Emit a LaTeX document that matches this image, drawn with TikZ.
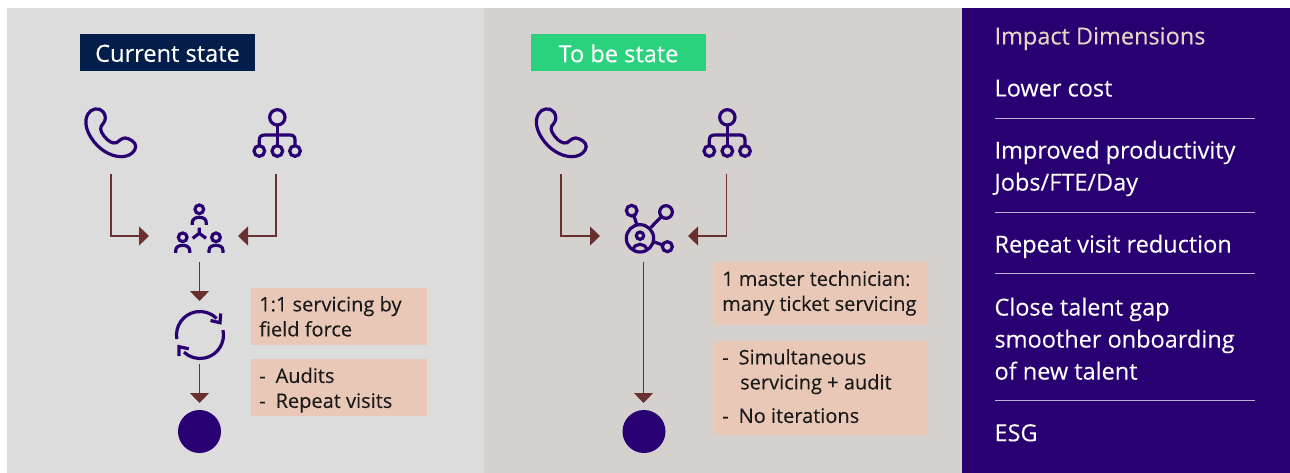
\documentclass[tikz,border=0pt]{standalone}
\usepackage{fontspec}
\setmainfont{Open Sans}[FakeBold=0.12]
\usetikzlibrary{arrows.meta,positioning}
\definecolor{panelA}{HTML}{DCDCDC}
\definecolor{panelB}{HTML}{D5D1CE}
\definecolor{deep}{HTML}{280071}
\definecolor{navy}{HTML}{041E4B}
\definecolor{mint}{HTML}{2AD27E}
\definecolor{peach}{HTML}{E9C8B8}
\definecolor{wine}{HTML}{68302E}
\definecolor{lilac}{HTML}{E8D3C4}
\tikzset{
  x=1pt,y=-1pt,
  flow/.style={draw=wine,line width=1.3pt,-{Triangle[length=10pt,width=19pt]}},
  icon/.style={draw=deep,line width=3.2pt,fill=none},
  titlebox/.style={minimum width=175pt,minimum height=37pt,inner sep=0pt,font=\fontsize{23.6}{24}\selectfont,text=white,text depth=0pt},
  notetext/.style={anchor=north west,inner sep=0pt,text=black!90,font=\fontsize{20}{25}\selectfont,align=left},
  imp/.style={anchor=north west,inner sep=0pt,text=white,font=\fontsize{23.5}{32}\selectfont,align=left},
  rulew/.style={draw=white!70!deep,line width=1pt},
  phone/.pic={
    \draw[icon,scale=1/3] (84,72) .. controls (92,56) and (118,50) .. (130,66)
      .. controls (138,78) and (138,90) .. (130,100) .. controls (118,112) and (120,122) .. (132,138)
      .. controls (144,154) and (158,162) .. (170,158) .. controls (182,148) and (192,140) .. (204,146)
      .. controls (224,154) and (232,166) .. (224,180) .. controls (216,194) and (200,200) .. (184,200)
      .. controls (150,200) and (114,176) .. (94,144) .. controls (78,120) and (72,92) .. (84,72) -- cycle;
  },
  orgchart/.pic={
    \begin{scope}[scale=1/3]
    \draw[icon] (652,82) circle (23);
    \draw[icon] (598,183) circle (16);
    \draw[icon] (652,183) circle (16);
    \draw[icon] (705,183) circle (16);
    \draw[icon] (652,105) -- (652,167);
    \draw[icon] (598,167) -- (598,150) .. controls (598,140) and (604,135) .. (614,135) -- (690,135) .. controls (700,135) and (705,140) .. (705,150) -- (705,167);
    \end{scope}
  },
  person/.pic={
    \begin{scope}[scale=1/3]
    \draw[icon] (0,0) circle (13);
    \draw[icon] (-21,47) -- (-21,40) .. controls (-21,28) and (-10,24) .. (0,24) .. controls (10,24) and (21,28) .. (21,40) -- (21,47);
    \end{scope}
  }
}
\begin{document}
\begin{tikzpicture}
\useasboundingbox (0,0) rectangle (1290,473);
\fill[white] (0,0) rectangle (1290,473);
\fill[panelA] (7,8) rectangle (484,473);
\fill[panelB] (484,8) rectangle (962,473);
\fill[deep] (962,8) rectangle (1290,473);

% titles
\node[titlebox,fill=navy] (cur) at (167.5,52.5) {\raisebox{-1.5pt}{Current state}};
\node[titlebox,fill=mint] (tobe) at (618.5,52.5) {\raisebox{-1.5pt}{To be state}};

% icons
\pic at (60,90) {phone};
\pic at (60,90) {orgchart};
\pic at (510.5,90) {phone};
\pic at (510,90) {orgchart};

% team icon
\pic at (199.3,209.3) {person};
\pic at (182.7,237.3) {person};
\pic at (216,237.3) {person};
\draw[icon] (199.3,227.5) -- (199.3,233.3) (192.7,238.3) -- (199.3,233.3) -- (206,238.3);

% hub icon
\begin{scope}[shift={(520,90)}]
\begin{scope}[scale=1/3]
\draw[icon] (360,445) circle (41);
\draw[icon] (360,437) circle (11);
\draw[icon] (340,478) .. controls (344,458) and (376,458) .. (380,478);
\draw[icon] (335,362) circle (16);
\draw[icon] (438,366) circle (19);
\draw[icon] (442,470) circle (15);
\draw[icon] (342,378) -- (351,405);
\draw[icon] (424,380) -- (392,413);
\draw[icon] (400,455) -- (428,465);
\end{scope}
\end{scope}

% sync icon
\draw[icon] (200,335) ++(170:23.5) arc[start angle=170,end angle=315,radius=23.5];
\draw[icon] (200,335) ++(-12:23.5) arc[start angle=-12,end angle=133,radius=23.5];
\draw[icon] (210.5,320.5) -- (220,322.7) -- (220.7,313.5);
\draw[icon] (188.8,348.8) -- (179,346.7) -- (179,356);

% named ends
\coordinate (a1) at (111,174);
\coordinate (a2) at (276,174);
\coordinate (teamL) at (149,236);
\coordinate (teamR) at (238,236);
\coordinate (teamD) at (199.5,262);
\coordinate (syncU) at (199.5,301);
\coordinate (syncD) at (199.5,364);
\coordinate (dotU) at (199.5,403);
\coordinate (b1) at (561,174);
\coordinate (b2) at (726.5,174);
\coordinate (hubL) at (600,236);
\coordinate (hubR) at (688,236);
\coordinate (hubD) at (643.5,262);
\coordinate (dot2U) at (643.5,403);

\draw[flow] (a1) |- (teamL);
\draw[flow] (a2) |- (teamR);
\draw[flow] (teamD) -- (syncU);
\draw[flow] (syncD) -- (dotU);
\draw[flow] (b1) |- (hubL);
\draw[flow] (b2) |- (hubR);
\draw[flow] (hubD) -- (dot2U);

\node[circle,fill=deep,minimum size=43pt,inner sep=0pt] (dotA) at (199.5,431.5) {};
\node[circle,fill=deep,minimum size=43pt,inner sep=0pt] (dotB) at (644,431.5) {};

% notes
\fill[peach] (251,288) rectangle (427,345);
\fill[peach] (251,359) rectangle (427,416);
\fill[peach] (714,262) rectangle (928,325);
\fill[peach] (714,341) rectangle (928,435);

\node[notetext] (n1) at (259,296) {1:1 servicing by\\field force};
\node[notetext] (n2) at (259,367.5) {-\hspace{10pt}Audits\\-\hspace{10pt}Repeat visits};
\node[notetext] (n3) at (722,270.5) {1 master technician:\\many ticket servicing};
\node[notetext] (n4a) at (722,349) {-\hspace{10pt}Simultaneous\\\hspace{18pt}servicing + audit};
\node[notetext] (n4b) at (722,408) {-\hspace{10pt}No iterations};

% right panel
\node[imp,text=lilac] (h) at (994.3,27) {Impact Dimensions};
\node[imp] (i1) at (994.3,79.5) {Lower cost};
\draw[rulew] (995,118.5) -- (1255,118.5);
\node[imp] (i2) at (994.3,140.5) {Improved productivity\\Jobs/FTE/Day};
\draw[rulew] (995,213) -- (1255,213);
\node[imp] (i3) at (994.3,234.5) {Repeat visit reduction};
\draw[rulew] (995,273.7) -- (1255,273.7);
\node[imp] (i4) at (994.3,297.5) {Close talent gap\\smoother onboarding\\of new talent};
\draw[rulew] (995,400.7) -- (1255,400.7);
\node[imp] (i5) at (994.3,424) {ESG};
\end{tikzpicture}
\end{document}
